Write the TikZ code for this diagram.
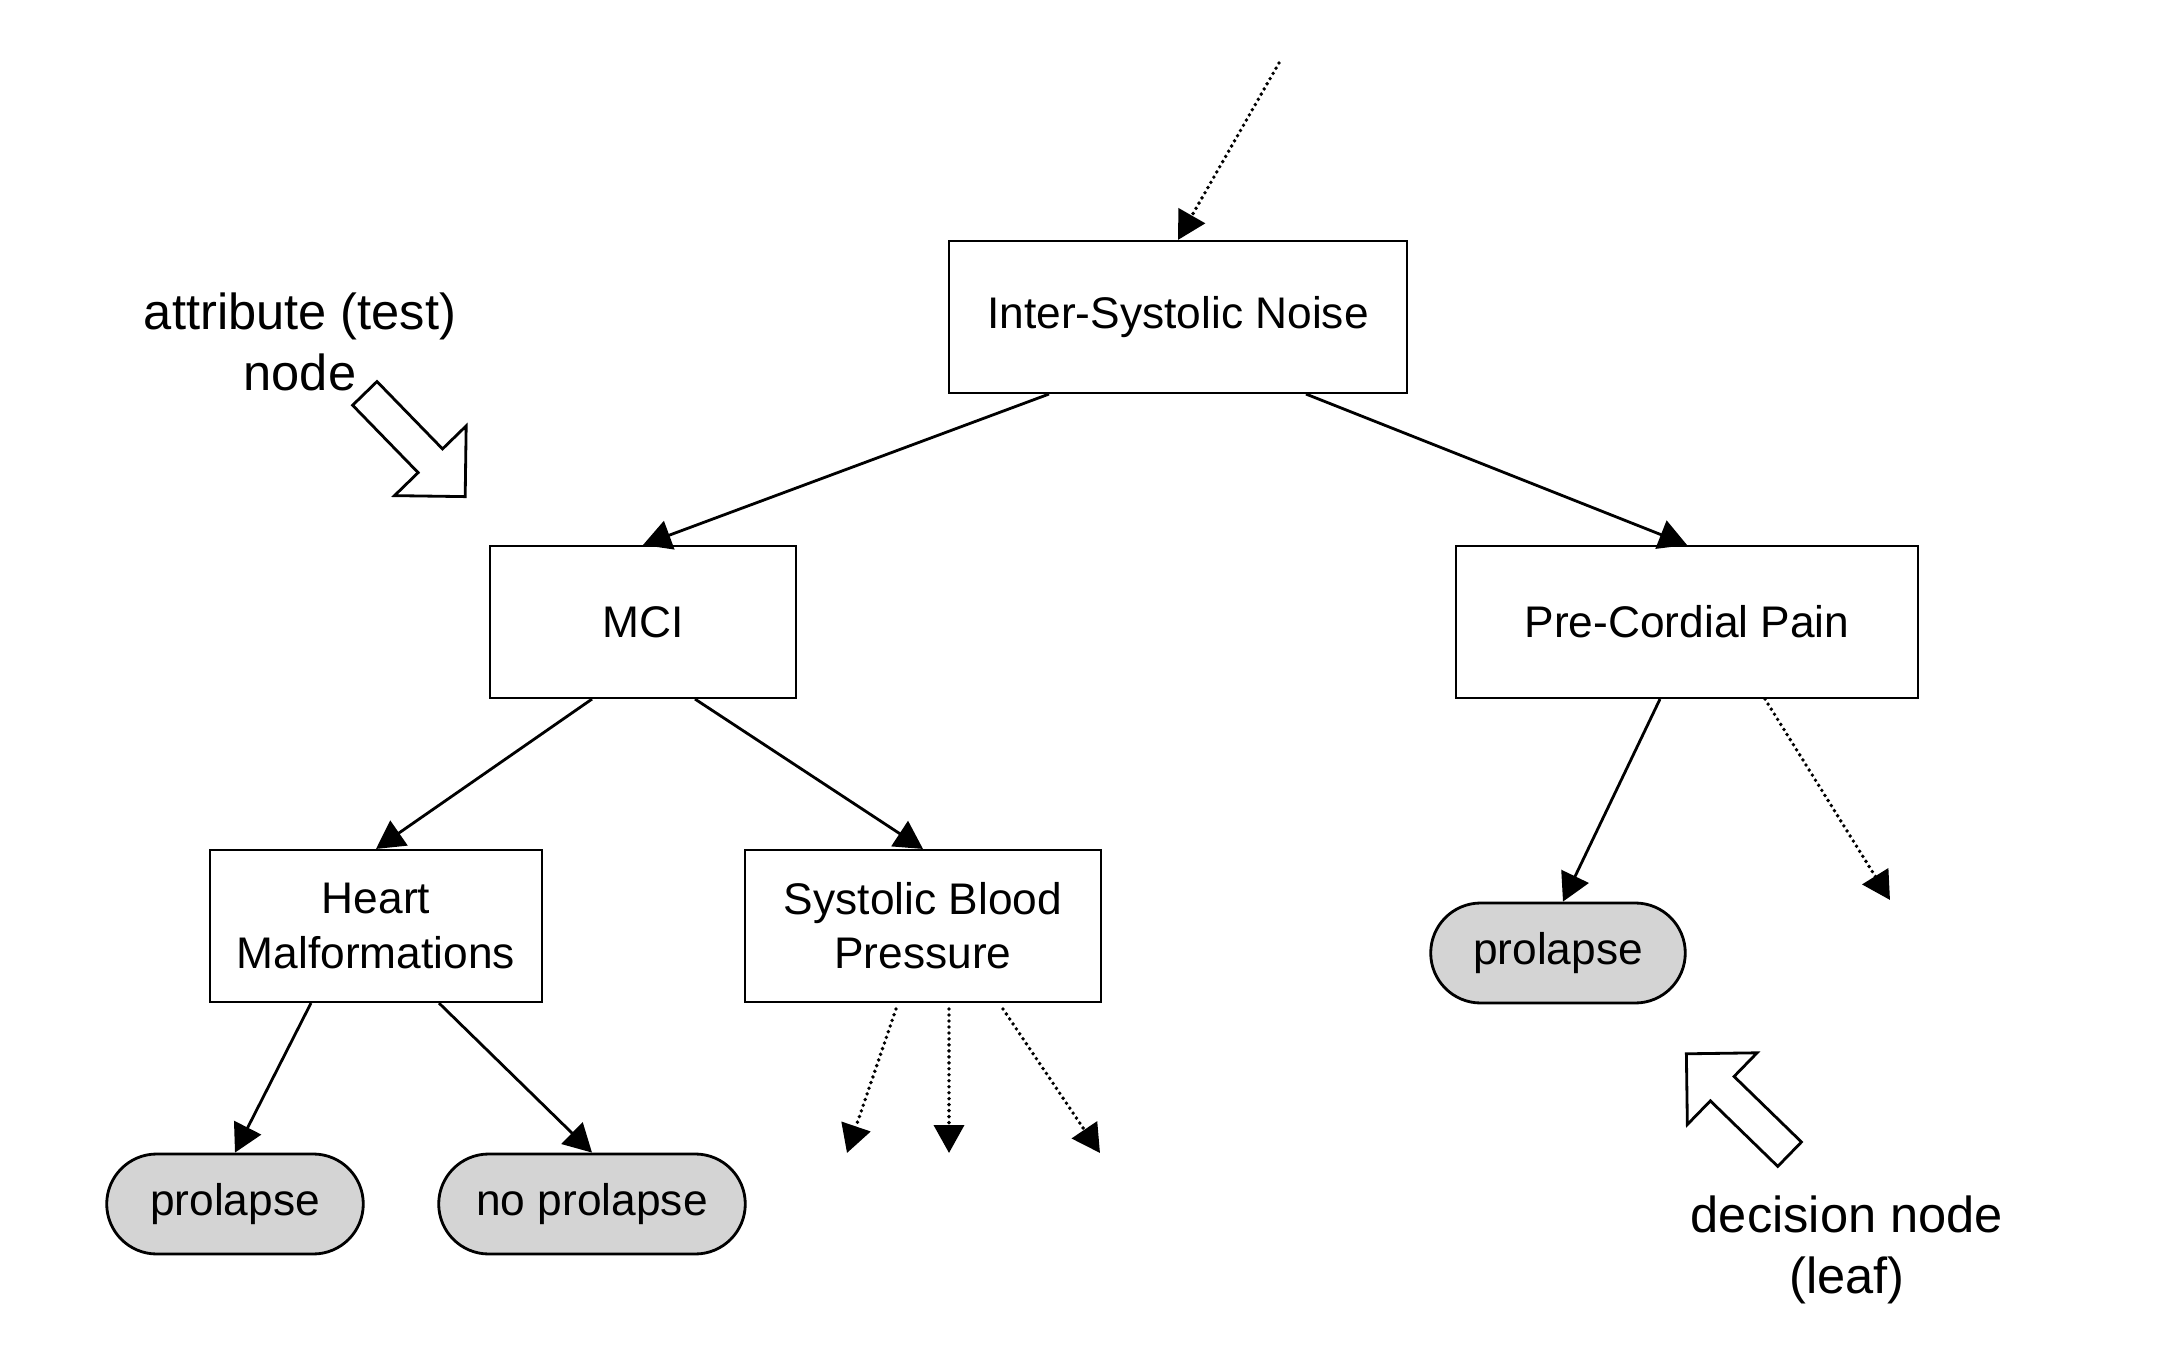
\documentclass[tikz,border=0pt]{standalone}
\usepackage{fontspec}
\setmainfont{Liberation Sans}
\usetikzlibrary{arrows.meta, shapes.misc}

\begin{document}
\begin{tikzpicture}[
        box/.style={draw, rectangle, line width=0.6pt, minimum height=1.52cm, align=center, font=\fontsize{12.6}{15.4}\selectfont},
        leaf/.style={draw, rounded rectangle, line width=0.8pt, fill=black!17, minimum height=1.0cm, font=\fontsize{12.6}{15.4}\selectfont},
        arrow/.style={-{Triangle[length=2.8mm, width=3mm]}, line width=0.8pt},
        dotarrow/.style={arrow, line width=1.1pt, line cap=round, dash pattern=on 0pt off 1.7pt},
        hollow/.style={draw, line width=0.8pt, line join=miter},
        note/.style={align=center, font=\fontsize{14.4}{17.3}\selectfont}
    ]
        \useasboundingbox (0,0) rectangle (21.78,-13.48);

        % Nodes
        \node[box, minimum width=4.58cm] (noise) at (11.78,-3.17) {Inter-Systolic Noise};
        \node[box, minimum width=3.06cm] (mci) at (6.43,-6.22) {MCI};
        \node[box, minimum width=4.62cm] (pain) at (16.87,-6.22) {Pre-Cordial Pain};
        \node[box, minimum width=3.32cm] (heart) at (3.76,-9.26) {Heart\\Malformations};
        \node[box, minimum width=3.56cm] (blood) at (9.23,-9.26) {Systolic Blood\\Pressure};

        % Leaves
        \node[leaf, minimum width=2.80cm] (prolapseA) at (2.35,-12.04) {prolapse};
        \node[leaf, minimum width=3.30cm] (noprolapse) at (5.92,-12.04) {no prolapse};
        \node[leaf, minimum width=2.78cm] (prolapseB) at (15.58,-9.53) {prolapse};

        % Loose ends
        \coordinate (start) at (12.79,-0.63);
        \coordinate (bloodA) at (8.47,-11.53);
        \coordinate (bloodB) at (9.49,-11.53);
        \coordinate (bloodC) at (11.00,-11.53);
        \coordinate (painB) at (18.90,-9.00);

        % Arrows
        \draw[dotarrow] (start) -- (noise.north);
        \draw[arrow] ([xshift=-1.29cm]noise.south) -- (mci.north);
        \draw[arrow] ([xshift=1.28cm]noise.south) -- (pain.north);
        \draw[arrow] ([xshift=-0.51cm]mci.south) -- (heart.north);
        \draw[arrow] ([xshift=0.52cm]mci.south) -- (blood.north);
        \draw[arrow] ([xshift=-0.65cm]heart.south) -- (prolapseA.north);
        \draw[arrow] ([xshift=0.63cm]heart.south) -- (noprolapse.north);
        \draw[arrow] ([xshift=-0.27cm]pain.south) -- ([xshift=0.05cm]prolapseB.north);
        \draw[dotarrow] ([xshift=0.78cm]pain.south) -- (painB);
        \draw[dotarrow] ([xshift=-0.27cm,yshift=-0.06cm]blood.south) -- (bloodA);
        \draw[dotarrow] ([xshift=0.26cm,yshift=-0.06cm]blood.south) -- (bloodB);
        \draw[dotarrow] ([xshift=0.80cm,yshift=-0.06cm]blood.south) -- (bloodC);

        % Annotations
        \node[note] (attr) at (3.00,-3.42) {attribute (test)\\node};
        \node[note] (decision) at (18.47,-12.50) {decision node\\(leaf)};
        \draw[hollow, shift={(4.15,-4.45)}, rotate=-45.8] (-0.72,-0.17) -- (0.22,-0.17) -- (0.22,-0.5) -- (0.72,0) -- (0.22,0.5) -- (0.22,0.17) -- (-0.72,0.17) -- cycle;
        \draw[hollow, shift={(17.38,-11.04)}, rotate=135.8] (-0.72,-0.17) -- (0.22,-0.17) -- (0.22,-0.5) -- (0.72,0) -- (0.22,0.5) -- (0.22,0.17) -- (-0.72,0.17) -- cycle;
    \end{tikzpicture}
\end{document}
